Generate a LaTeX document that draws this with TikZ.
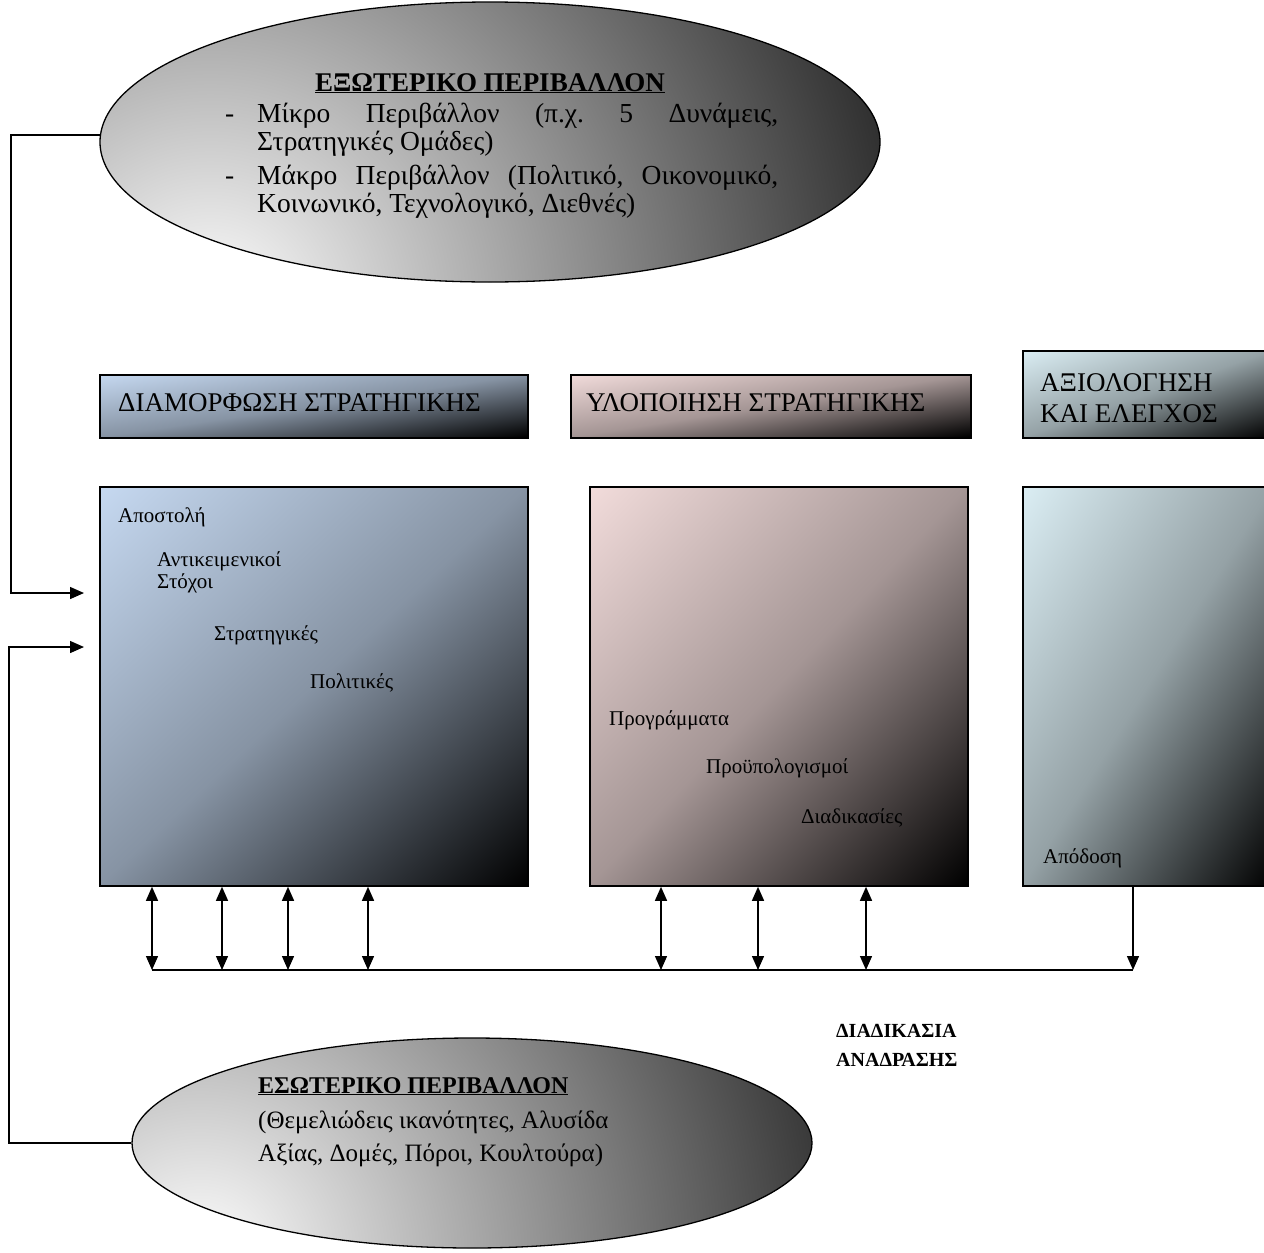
\documentclass[tikz,border=0pt]{standalone}
\usepackage{fontspec}
\setmainfont{Liberation Serif}
\usetikzlibrary{arrows.meta,shapes.geometric,calc}
\definecolor{blueL}{RGB}{198,217,241}
\definecolor{pinkL}{RGB}{242,220,219}
\definecolor{cyanL}{RGB}{219,238,244}
\definecolor{ellDark}{RGB}{40,40,40}
\tikzset{
  conn/.style={line width=1.4pt},
  tipA/.tip={Triangle[length=14pt,width=12pt]},
  dbl/.style={line width=1.4pt,tipA-tipA},
  sgl/.style={line width=1.4pt,-tipA},
  box/.style={draw=black,line width=1.8pt,inner sep=0pt,anchor=north west},
  hdtext/.style={anchor=base west,inner sep=0pt,font=\fontsize{27}{31}\selectfont},
  bdtext/.style={anchor=base west,inner sep=0pt,font=\fontsize{21}{24}\selectfont},
  eltext/.style={anchor=base west,inner sep=0pt,font=\fontsize{27.5}{31}\selectfont},
  elhead/.style={anchor=base west,inner sep=0pt,font=\bfseries\fontsize{27}{31}\selectfont},
  eltextb/.style={anchor=base west,inner sep=0pt,font=\fontsize{25}{29}\selectfont},
  elheadb/.style={anchor=base west,inner sep=0pt,font=\bfseries\fontsize{24}{28}\selectfont},
  fbtext/.style={anchor=base west,inner sep=0pt,font=\bfseries\fontsize{20}{24}\selectfont},
}
% diagonal gradient box: name, x0, y0 (top-left), w, h, light colour
\newcommand\gradbox[6]{%
  \pgfmathsetmacro\gbn{100*sqrt((#4/100)*(#4/100)+(#5/100)*(#5/100))}%
  \pgfmathsetmacro\gbt{atan((#5)/(#4))}%
  \pgfmathsetmacro\gbL{2*(#4/100)*(#5/100)*100/(\gbn/100)}%
  \pgfmathsetmacro\gbD{\gbn+40}%
  \begin{scope}
    \clip (#2,#3) rectangle ++(#4,#5);
    \begin{scope}[transform canvas={shift={(#2+#4/2,#3+#5/2)},rotate=\gbt}]
      \shade[top color=#6,bottom color=black,middle color=#6!68!black]
        (-\gbD/2,-\gbL/2) rectangle (\gbD/2,\gbL/2);
    \end{scope}
  \end{scope}
  \node[box,minimum width=#4pt,minimum height=#5pt] (#1) at (#2,#3) {};
}
\begin{document}
\begin{tikzpicture}[x=1pt,y=-1pt]
\clip (0,0) rectangle (1264,1253);
\useasboundingbox (0,0) rectangle (1264,1253);

% ---------- top ellipse ----------
\begin{scope}
  \clip (490,142) ellipse [x radius=390pt, y radius=140pt];
  \shade[inner color=white, outer color=ellDark] (210,310) circle [radius=720pt];
\end{scope}
\node[draw=black,line width=1.3pt,ellipse,minimum width=780pt,minimum height=280pt,inner sep=0pt] (ell1) at (490,142) {};
\node[elhead] (t1h) at (315,91) {\underline{ΕΞΩΤΕΡΙΚΟ ΠΕΡΙΒΑΛΛΟΝ}};
\node[eltext] (t1d1) at (225,122) {-};
\node[eltext] (t1l1) at (257,122) {\hbox to 521pt{Μίκρο\hfill Περιβάλλον\hfill (π.χ.\hfill 5\hfill Δυνάμεις,}};
\node[eltext] (t1l2) at (257,150) {Στρατηγικές Ομάδες)};
\node[eltext] (t1d2) at (225,184) {-};
\node[eltext] (t1l3) at (257,184) {\hbox to 521pt{Μάκρο\hfill Περιβάλλον\hfill (Πολιτικό,\hfill Οικονομικό,}};
\node[eltext] (t1l4) at (257,212) {Κοινωνικό, Τεχνολογικό, Διεθνές)};

% ---------- bottom ellipse ----------
\begin{scope}
  \clip (472,1143) ellipse [x radius=340pt, y radius=105pt];
  \shade[inner color=white, outer color=ellDark] (200,1260) circle [radius=680pt];
\end{scope}
\node[draw=black,line width=1.3pt,ellipse,minimum width=680pt,minimum height=210pt,inner sep=0pt] (ell2) at (472,1143) {};
\node[elheadb] (t2h) at (258,1093) {\underline{ΕΣΩΤΕΡΙΚΟ ΠΕΡΙΒΑΛΛΟΝ}};
\node[eltextb] (t2l1) at (258,1128) {(Θεμελιώδεις ικανότητες, Αλυσίδα};
\node[eltextb] (t2l2) at (258,1161) {Αξίας, Δομές, Πόροι, Κουλτούρα)};

% ---------- header boxes ----------
\gradbox{h1}{99}{374}{428}{63}{blueL}
\gradbox{h2}{570}{374}{400}{63}{pinkL}
\gradbox{h3}{1022}{350}{250}{87}{cyanL}
\node[hdtext] (h1t) at (118,411) {ΔΙΑΜΟΡΦΩΣΗ ΣΤΡΑΤΗΓΙΚΗΣ};
\node[hdtext] (h2t) at (586,411) {ΥΛΟΠΟΙΗΣΗ ΣΤΡΑΤΗΓΙΚΗΣ};
\node[hdtext] (h3t1) at (1040,391) {ΑΞΙΟΛΟΓΗΣΗ};
\node[hdtext] (h3t2) at (1040,422) {ΚΑΙ ΕΛΕΓΧΟΣ};

% ---------- body boxes ----------
\gradbox{b1}{99}{486}{428}{399}{blueL}
\gradbox{b2}{589}{486}{378}{399}{pinkL}
\gradbox{b3}{1022}{486}{250}{399}{cyanL}

\node[bdtext] (s1) at (118,522) {Αποστολή};
\node[bdtext] (s2) at (157,566) {Αντικειμενικοί};
\node[bdtext] (s3) at (157,588) {Στόχοι};
\node[bdtext] (s4) at (214,640) {Στρατηγικές};
\node[bdtext] (s5) at (310,688) {Πολιτικές};
\node[bdtext] (s6) at (609,725) {Προγράμματα};
\node[bdtext] (s7) at (706,773) {Προϋπολογισμοί};
\node[bdtext] (s8) at (801,823) {Διαδικασίες};
\node[bdtext] (s9) at (1043,863) {Απόδοση};

% ---------- feedback ----------
\node[fbtext] (fb1) at (836,1037) {ΔΙΑΔΙΚΑΣΙΑ};
\node[fbtext] (fb2) at (836,1066) {ΑΝΑΔΡΑΣΗΣ};

\coordinate (f1) at (152,970);
\coordinate (f2) at (222,970);
\coordinate (f3) at (288,970);
\coordinate (f4) at (368,970);
\coordinate (f5) at (661,970);
\coordinate (f6) at (758,970);
\coordinate (f7) at (866,970);
\coordinate (f8) at (1133,970);
\draw[conn] (f1) -- (f8);
\foreach \f in {f1,f2,f3,f4}{\draw[dbl] (\f |- b1.south) -- (\f);}
\foreach \f in {f5,f6,f7}{\draw[dbl] (\f |- b2.south) -- (\f);}
\draw[sgl] (f8 |- b3.south) -- (f8);

% ---------- environment connectors ----------
\coordinate (in1) at (84,593);
\coordinate (in2) at (84,647);
\coordinate (k1) at (11,593);
\coordinate (k2) at (9,647);
\draw[sgl] ($(ell1.west)+(1,-7)$) -| (k1) -- (in1);
\draw[sgl] (ell2.west) -| (k2) -- (in2);
\end{tikzpicture}
\end{document}
